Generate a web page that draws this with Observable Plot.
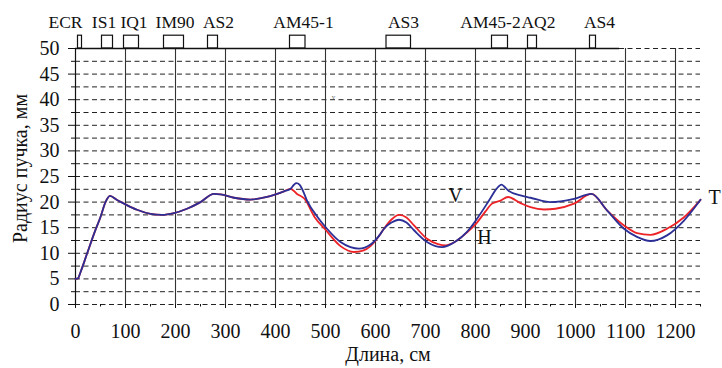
<!DOCTYPE html>
<html>
<head>
<meta charset="utf-8">
<script src="https://cdn.jsdelivr.net/npm/d3@7"></script>
<script src="https://cdn.jsdelivr.net/npm/@observablehq/plot@0.6"></script>
<style>
  html, body { margin: 0; padding: 0; background: #fff; }
  #chart svg { display: block; }
</style>
</head>
<body>
<div id="chart"></div>
<script>
// ---- data ----
const commonX = [0, 5, 10, 23, 37, 50, 60, 69, 83, 97, 123, 150, 173, 197, 223, 250, 277, 290, 317, 350, 383, 417, 430];
const commonY = [5.0, 5.1, 6.3, 9.9, 13.8, 17.1, 20.0, 21.2, 20.4, 19.7, 18.5, 17.7, 17.5, 17.85, 18.7, 20.0, 21.6, 21.5, 20.85, 20.5, 21.0, 22.1, 22.6];

const vTailX = [437, 442, 448, 453, 463, 484, 503, 530, 550, 567, 590, 610, 617, 632, 647, 662, 677, 703, 720, 733, 745, 760, 783, 803, 827, 842, 852, 858, 865, 890, 910, 950, 997, 1032, 1063, 1097, 1123, 1150, 1183, 1217, 1250];
const vTailY = [23.4, 23.7, 23.4, 22.6, 20.3, 17.1, 14.8, 12.2, 11.2, 10.9, 11.7, 13.8, 14.8, 16.0, 16.55, 16.0, 14.5, 12.2, 11.4, 11.2, 11.5, 12.3, 14.2, 16.75, 20.3, 22.6, 23.4, 23.0, 22.3, 21.3, 20.85, 20.0, 20.65, 21.6, 18.4, 14.8, 13.2, 12.4, 13.5, 16.4, 20.45];

const hTailX = [443, 458, 478, 500, 530, 557, 575, 590, 610, 617, 632, 647, 662, 677, 703, 725, 740, 760, 783, 803, 820, 833, 850, 865, 890, 910, 937, 960, 997, 1032, 1063, 1097, 1123, 1150, 1183, 1217, 1250];
const hTailY = [21.6, 20.65, 17.1, 14.6, 11.4, 10.25, 10.5, 11.4, 13.8, 14.8, 16.6, 17.5, 17.0, 15.45, 12.85, 11.8, 11.55, 12.3, 14.1, 16.0, 18.2, 19.7, 20.3, 21.0, 19.8, 19.0, 18.55, 18.7, 19.7, 21.6, 18.4, 15.45, 13.95, 13.6, 14.8, 17.05, 20.45];

const elementNames = ["ECR", "IS1", "IQ1", "IM90", "AS2", "AM45-1", "AS3", "AM45-2", "AQ2", "AS4"];
const elementStart = [5, 53, 97, 177, 265, 429, 622, 833, 905, 1029];
const elementEnd   = [13, 75, 127, 217, 285, 460, 671, 865, 923, 1041];
const elementLabelX = [-20, 57, 117, 199, 286, 456, 656, 830, 926, 1048];
const beamlineEnd = 1088;

const xMajorTicks = [0, 100, 200, 300, 400, 500, 600, 700, 800, 900, 1000, 1100, 1200];
const xMinorTicks = [50, 150, 250, 350, 450, 550, 650, 750, 850, 950, 1050, 1150, 1250];
const xGridLines = [100, 200, 300, 400, 500, 600, 700, 800, 900, 1000, 1100, 1200];
const yMajorTicks = [0, 5, 10, 15, 20, 25, 30, 35, 40, 45, 50];
const yMinorTicks = [2.5, 7.5, 12.5, 17.5, 22.5, 27.5, 32.5, 37.5, 42.5, 47.5];
const yGridLines = [0, 2.5, 5, 7.5, 10, 12.5, 15, 17.5, 20, 22.5, 25, 27.5, 30, 32.5, 35, 37.5, 40, 42.5, 45, 47.5, 50];

// ---- build tables ----
const toPts = (xs, ys) => xs.map((x, i) => ({x, y: ys[i]}));
const vLine = toPts(commonX.concat(vTailX), commonY.concat(vTailY));
const hLine = toPts(commonX.concat(hTailX), commonY.concat(hTailY));
const elements = elementNames.map((name, i) => ({name, x1: elementStart[i], x2: elementEnd[i], lx: elementLabelX[i]}));

const FONT = "'Liberation Serif', 'Times New Roman', serif";
const RED = "#ec2227";
const BLUE = "#2b2f96";

const chart = Plot.plot({
  width: 722,
  height: 368,
  marginLeft: 75,
  marginRight: 22,
  marginTop: 48,
  marginBottom: 64,
  style: {fontFamily: FONT, fontSize: "20px", background: "#fff", color: "#111"},
  x: {domain: [0, 1250]},
  y: {domain: [0, 50]},
  marks: [
    // horizontal dashed grid
    Plot.ruleY(yGridLines, {stroke: "#222", strokeWidth: 1, strokeDasharray: "5,3.5"}),
    // vertical solid grid
    Plot.ruleX(xGridLines, {y1: 0, y2: 50, stroke: "#333", strokeWidth: 1.1}),
    // y axis line
    Plot.ruleX([0], {y1: 0, y2: 50, stroke: "#111", strokeWidth: 1.2}),
    // beamline baseline
    Plot.ruleY([50], {x1: 0, x2: beamlineEnd, stroke: "#111", strokeWidth: 1.6}),
    // elements
    Plot.rect(elements, {x1: "x1", x2: "x2", y1: 50, y2: 52.5, stroke: "#111", strokeWidth: 1.2, fill: "none", clip: false}),
    Plot.text(elements, {x: "lx", text: "name", frameAnchor: "top", lineAnchor: "middle", dy: -26.5, fontSize: 17.5, fill: "#111", clip: false}),
    // curves
    Plot.line(hLine, {x: "x", y: "y", stroke: RED, strokeWidth: 1.8, curve: "monotone-x"}),
    Plot.line(vLine, {x: "x", y: "y", stroke: BLUE, strokeWidth: 1.8, curve: "monotone-x"}),
    // curve labels
    Plot.text(["V"], {x: 760, y: 21.3, text: d => d, fontSize: 20, fill: "#111"}),
    Plot.text(["H"], {x: 818, y: 13.1, text: d => d, fontSize: 20, fill: "#111"}),
    Plot.text(["T"], {x: 1278, y: 20.8, text: d => d, fontSize: 20, fill: "#111", clip: false}),
    Plot.text(["v"], {x: 516, y: 40.6, text: d => d, fontSize: 7, fill: "#666"}),
    // axes
    Plot.axisX({ticks: xMajorTicks, tickSize: 4, tickPadding: 15, label: null, tickFormat: d => String(d)}),
    Plot.axisX({ticks: xMinorTicks, tickSize: 2.5, tickFormat: () => "", label: null}),
    Plot.axisY({ticks: yMajorTicks, tickSize: 7, tickPadding: 9, label: null, tickFormat: d => String(d)}),
    Plot.axisY({ticks: yMinorTicks, tickSize: 4, tickFormat: () => "", label: null}),
    // axis titles
    Plot.text(["Длина, см"], {text: d => d, frameAnchor: "bottom", lineAnchor: "middle", textAnchor: "middle", dy: 50, fontSize: 20, fill: "#111"}),
    Plot.text(["Радиус пучка, мм"], {text: d => d, frameAnchor: "left", lineAnchor: "middle", textAnchor: "middle", dx: -55, dy: -8, rotate: -90, fontSize: 20, fill: "#111"})
  ]
});

document.getElementById("chart").appendChild(chart);
</script>
</body>
</html>
